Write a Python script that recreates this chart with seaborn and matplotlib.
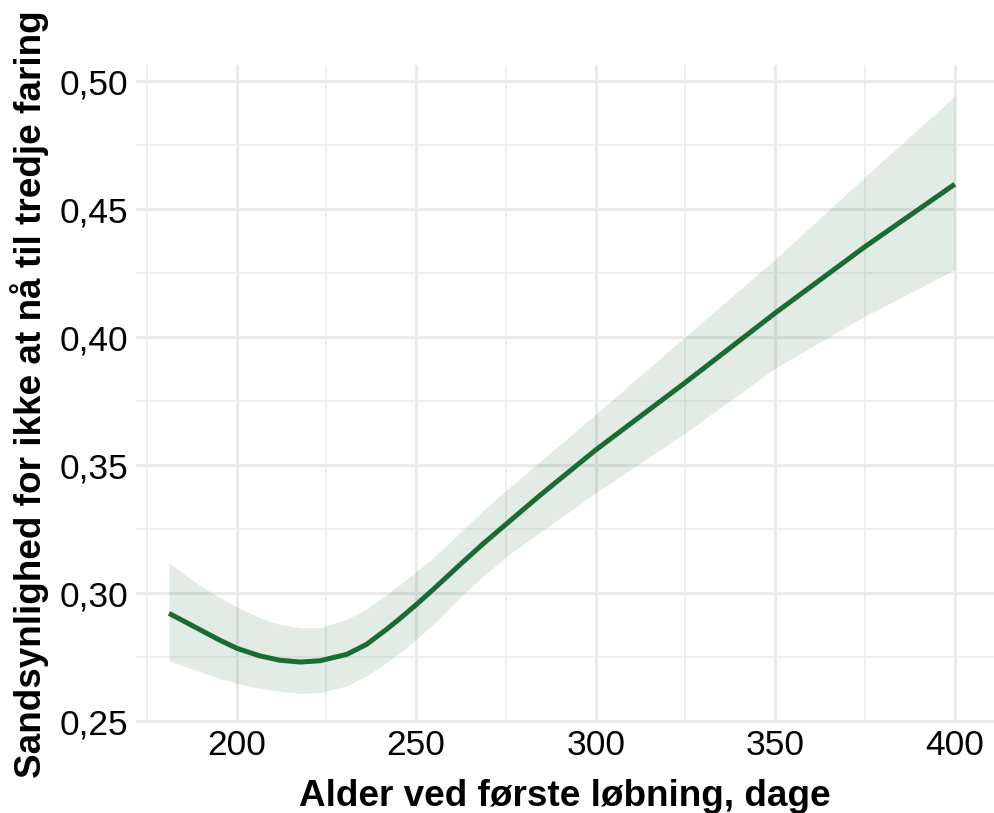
import numpy as np
import pandas as pd
import matplotlib
matplotlib.use("Agg")
import matplotlib.pyplot as plt
import seaborn as sns
from matplotlib.ticker import MultipleLocator, FuncFormatter

# Data
age_days = [181.2, 186.1, 190.8, 195.4, 200.2, 206.5, 212.1, 217.7, 223.2, 230.7, 236.2, 241.8,
            245.5, 250.1, 254.8, 262.2, 268.5, 275.2, 284.5, 300, 325, 350, 375, 400]
prob_fit = [0.2922, 0.2886, 0.2851, 0.2817, 0.2785, 0.2756, 0.2739, 0.2732, 0.2737, 0.2762, 0.2801,
            0.2860, 0.2902, 0.2957, 0.3016, 0.3112, 0.3192, 0.3272, 0.3383, 0.3560, 0.3824,
            0.4095, 0.4354, 0.4598]
prob_upper = [0.3120, 0.3068, 0.3022, 0.2983, 0.2947, 0.2905, 0.2879, 0.2866, 0.2866, 0.2899, 0.2940,
              0.2996, 0.3035, 0.3087, 0.3139, 0.3237, 0.3322, 0.3404, 0.3515, 0.3700, 0.4003,
              0.4305, 0.4627, 0.4942]
prob_lower = [0.2736, 0.2713, 0.2689, 0.2668, 0.2648, 0.2629, 0.2617, 0.2610, 0.2612, 0.2639, 0.2678,
              0.2730, 0.2769, 0.2821, 0.2880, 0.2985, 0.3065, 0.3145, 0.3239, 0.3392, 0.3627,
              0.3880, 0.4083, 0.4264]

x_ticks = [200, 250, 300, 350, 400]
y_ticks = [0.25, 0.30, 0.35, 0.40, 0.45, 0.50]

xlabel = "Alder ved første løbning, dage"
ylabel = "Sandsynlighed for ikke at nå til tredje faring"

df = pd.DataFrame({"alder": age_days, "fit": prob_fit, "lo": prob_lower, "hi": prob_upper})

sns.set_theme(style="whitegrid")
plt.rcParams["font.family"] = ["Liberation Sans", "DejaVu Sans"]

green = "#1B6B35"
grid_col = "#EBEBEB"

fig = plt.figure(figsize=(9.94, 8.13), dpi=100)
ax = fig.add_axes([0.1368, 0.1107, 1.0 - 0.1368, 0.92 - 0.1107])

ax.fill_between(df["alder"], df["lo"], df["hi"], color=green, alpha=0.125, linewidth=0, zorder=2)
sns.lineplot(data=df, x="alder", y="fit", ax=ax, color=green, linewidth=3.6, zorder=3)
for l in ax.lines:
    l.set_solid_joinstyle("round")
    l.set_solid_capstyle("butt")

ax.set_xlim(172.0, 410.9)
ax.set_ylim(0.2494, 0.5063)

ax.xaxis.set_minor_locator(MultipleLocator(25))
ax.yaxis.set_minor_locator(MultipleLocator(0.025))
ax.set_xticks(x_ticks)
ax.set_yticks(y_ticks)
ax.yaxis.set_major_formatter(FuncFormatter(lambda v, p: f"{v:.2f}".replace(".", ",")))

ax.set_facecolor("white")
ax.grid(which="major", color=grid_col, linewidth=2.2, zorder=0)
ax.grid(which="minor", color=grid_col, linewidth=1.1, zorder=0)
ax.set_axisbelow(True)
for s in ax.spines.values():
    s.set_visible(False)

ax.tick_params(axis="both", which="both", length=0, labelsize=25.5, labelcolor="black")
ax.tick_params(axis="x", pad=4)
ax.tick_params(axis="y", pad=5.5)

ax.set_xlabel(xlabel, fontsize=26.6, fontweight="bold", color="black")
ax.set_ylabel(ylabel, fontsize=26.6, fontweight="bold", color="black")
ax.xaxis.set_label_coords(0.5, -0.085)
ax.yaxis.set_label_coords(-0.101, 0.5)

fig.savefig("out.png", dpi=100, facecolor="white")
